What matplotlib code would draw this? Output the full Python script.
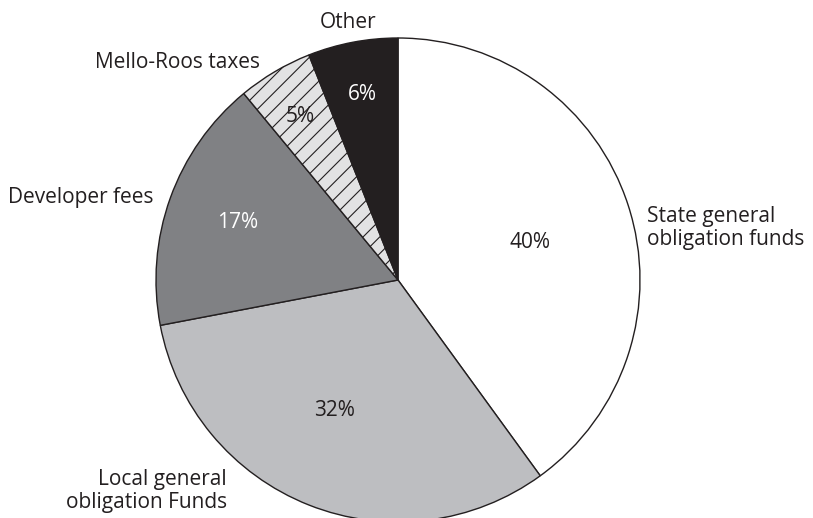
import matplotlib.pyplot as plt

plt.rcParams['font.family'] = ['Open Sans', 'DejaVu Sans']
plt.rcParams['hatch.linewidth'] = 0.8

labels = ['State general\nobligation funds', 'Local general\nobligation Funds',
          'Developer fees', 'Mello-Roos taxes', 'Other']
shares = [40, 32, 17, 5, 6]
pct_text = ['40%', '32%', '17%', '5%', '6%']

colors = ['#ffffff', '#bdbec1', '#808184', '#e2e2e3', '#231f20']
pct_colors = ['#231f20', '#231f20', '#ffffff', '#231f20', '#ffffff']

fig = plt.figure(figsize=(8.13, 5.18), dpi=100)
ax = fig.add_axes([0, 0, 1, 1])

wedges, _ = ax.pie(shares, colors=colors, startangle=90, counterclock=False,
                   center=(398, 238), radius=242,
                   wedgeprops=dict(edgecolor='#231f20', linewidth=1.0))
wedges[3].set_hatch('//')

# pie() resets the limits, so fix the canvas afterwards
ax.set_xlim(0, 813)
ax.set_ylim(0, 518)
ax.set_aspect('equal')
ax.axis('off')

fs = 15
txt = '#231f20'

# percentage labels inside the slices
pct_pos = [(530, 275), (334, 107), (238, 295), (300, 402), (362, 424)]
for (x, y), t, c in zip(pct_pos, pct_text, pct_colors):
    ax.text(x, y, t, ha='center', va='center', fontsize=fs, color=c)

# category labels outside
ax.text(647, 290, labels[0], ha='left', va='center', fontsize=fs,
        color=txt, linespacing=1.12)
ax.text(227, 27, labels[1], ha='right', va='center', fontsize=fs,
        color=txt, linespacing=1.12, multialignment='right')
ax.text(8, 321, labels[2], ha='left', va='center', fontsize=fs, color=txt)
ax.text(95, 455, labels[3], ha='left', va='center', fontsize=fs, color=txt)
ax.text(348, 496, labels[4], ha='center', va='center', fontsize=fs, color=txt)

plt.savefig('out.png', dpi=100)
